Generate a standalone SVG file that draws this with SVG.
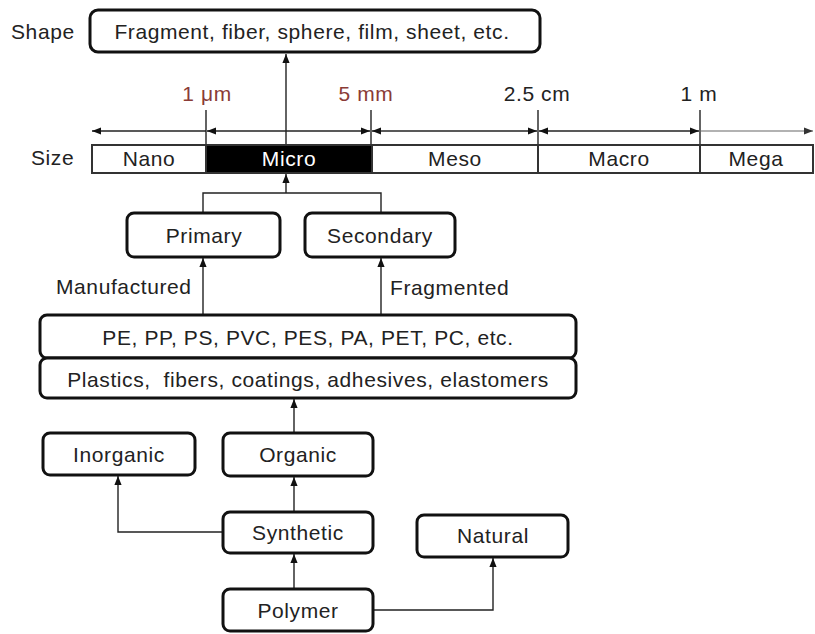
<svg xmlns="http://www.w3.org/2000/svg" width="815" height="634" viewBox="0 0 815 634">
<defs>
<style>
text{font-family:"Liberation Sans",Arial,sans-serif;font-size:21px;letter-spacing:0.6px;fill:#222;}
.c{text-anchor:middle;}
.box{fill:#fff;stroke:#111;stroke-width:3;}
.seg{fill:#fff;stroke:#333;stroke-width:2;}
.ln{fill:none;stroke:#222;stroke-width:1.4;}
.red{fill:#8a3b36;}
.tick{stroke:#222;stroke-width:1.4;}
</style>
<marker id="ah" viewBox="0 0 10 8" refX="10" refY="4" markerWidth="9" markerHeight="8" markerUnits="userSpaceOnUse" orient="auto-start-reverse">
<path d="M0,0 L10,4 L0,8 z" fill="#111"/>
</marker>
<marker id="ahg" viewBox="0 0 10 8" refX="10" refY="4" markerWidth="9" markerHeight="8" markerUnits="userSpaceOnUse" orient="auto-start-reverse">
<path d="M0,0 L10,4 L0,8 z" fill="#333"/>
</marker>
</defs>
<rect width="815" height="634" fill="#fff"/>

<g id="connectors">
<line class="ln" x1="286" y1="144" x2="286" y2="54" marker-end="url(#ah)"/>
<polyline class="ln" points="203,213 203,193 381,193 381,213"/>
<line class="ln" x1="286" y1="193" x2="286" y2="174" marker-end="url(#ah)"/>
<line class="ln" x1="203" y1="315" x2="203" y2="258" marker-end="url(#ah)"/>
<line class="ln" x1="381" y1="315" x2="381" y2="258" marker-end="url(#ah)"/>
<line class="ln" x1="294" y1="433" x2="294" y2="399" marker-end="url(#ah)"/>
<line class="ln" x1="294" y1="512" x2="294" y2="477" marker-end="url(#ah)"/>
<line class="ln" x1="294" y1="589" x2="294" y2="554" marker-end="url(#ah)"/>
<polyline class="ln" points="223,532 118,532 118,476" marker-end="url(#ah)"/>
<polyline class="ln" points="373,610 493,610 493,558" marker-end="url(#ah)"/>
</g>

<g id="scale">
<line class="tick" x1="206" y1="110" x2="206" y2="144"/>
<line class="tick" x1="371" y1="110" x2="371" y2="144"/>
<line class="tick" x1="538" y1="110" x2="538" y2="144"/>
<line class="tick" x1="700" y1="110" x2="700" y2="144"/>
<line class="ln" x1="206" y1="131" x2="92" y2="131" marker-end="url(#ah)"/>
<line class="ln" x1="207" y1="131" x2="370" y2="131" marker-start="url(#ah)" marker-end="url(#ah)"/>
<line class="ln" x1="372" y1="131" x2="537" y2="131" marker-start="url(#ah)" marker-end="url(#ah)"/>
<line class="ln" x1="539" y1="131" x2="699" y2="131" marker-start="url(#ah)" marker-end="url(#ah)"/>
<line x1="700" y1="131" x2="813" y2="131" stroke="#666" stroke-width="1.2" marker-end="url(#ahg)"/>
<text class="c red" x="207" y="101">1 μm</text>
<text class="c red" x="366" y="101">5 mm</text>
<text class="c" x="537" y="101">2.5 cm</text>
<text class="c" x="699" y="101">1 m</text>
</g>

<g id="shape">
<text x="11" y="39">Shape</text>
<rect class="box" x="90" y="10" width="450" height="42" rx="8"/>
<text class="c" x="312" y="39">Fragment, fiber, sphere, film, sheet, etc.</text>
</g>

<g id="size">
<text x="31" y="165">Size</text>
<rect class="seg" x="92" y="145" width="114" height="28"/>
<rect x="206" y="145" width="166" height="28" fill="#000" stroke="#333" stroke-width="2"/>
<rect class="seg" x="372" y="145" width="166" height="28"/>
<rect class="seg" x="538" y="145" width="162" height="28"/>
<rect class="seg" x="700" y="145" width="113" height="28"/>
<text class="c" x="149" y="166">Nano</text>
<text class="c" x="289" y="166" style="fill:#fff">Micro</text>
<text class="c" x="455" y="166">Meso</text>
<text class="c" x="619" y="166">Macro</text>
<text class="c" x="756" y="166">Mega</text>
</g>

<g id="primary">
<rect class="box" x="127" y="213" width="153" height="44" rx="7"/>
<text class="c" x="204" y="243">Primary</text>
</g>
<g id="secondary">
<rect class="box" x="305" y="213" width="150" height="44" rx="7"/>
<text class="c" x="380" y="243">Secondary</text>
</g>
<g id="labels">
<text x="56" y="294">Manufactured</text>
<text x="390" y="295">Fragmented</text>
</g>

<g id="types">
<rect class="box" x="40" y="315" width="536" height="43" rx="7"/>
<text class="c" x="308" y="345">PE, PP, PS, PVC, PES, PA, PET, PC, etc.</text>
</g>
<g id="products">
<rect class="box" x="40" y="358" width="536" height="40" rx="7"/>
<text class="c" x="308" y="387" style="white-space:pre">Plastics,  fibers, coatings, adhesives, elastomers</text>
</g>

<g id="inorganic">
<rect class="box" x="43" y="433" width="152" height="42" rx="7"/>
<text class="c" x="119" y="462">Inorganic</text>
</g>
<g id="organic">
<rect class="box" x="223" y="433" width="150" height="43" rx="7"/>
<text class="c" x="298" y="462">Organic</text>
</g>
<g id="synthetic">
<rect class="box" x="223" y="512" width="150" height="41" rx="7"/>
<text class="c" x="298" y="540">Synthetic</text>
</g>
<g id="natural">
<rect class="box" x="417" y="515" width="151" height="42" rx="7"/>
<text class="c" x="493" y="543">Natural</text>
</g>
<g id="polymer">
<rect class="box" x="223" y="589" width="150" height="42" rx="7"/>
<text class="c" x="298" y="618">Polymer</text>
</g>
</svg>
